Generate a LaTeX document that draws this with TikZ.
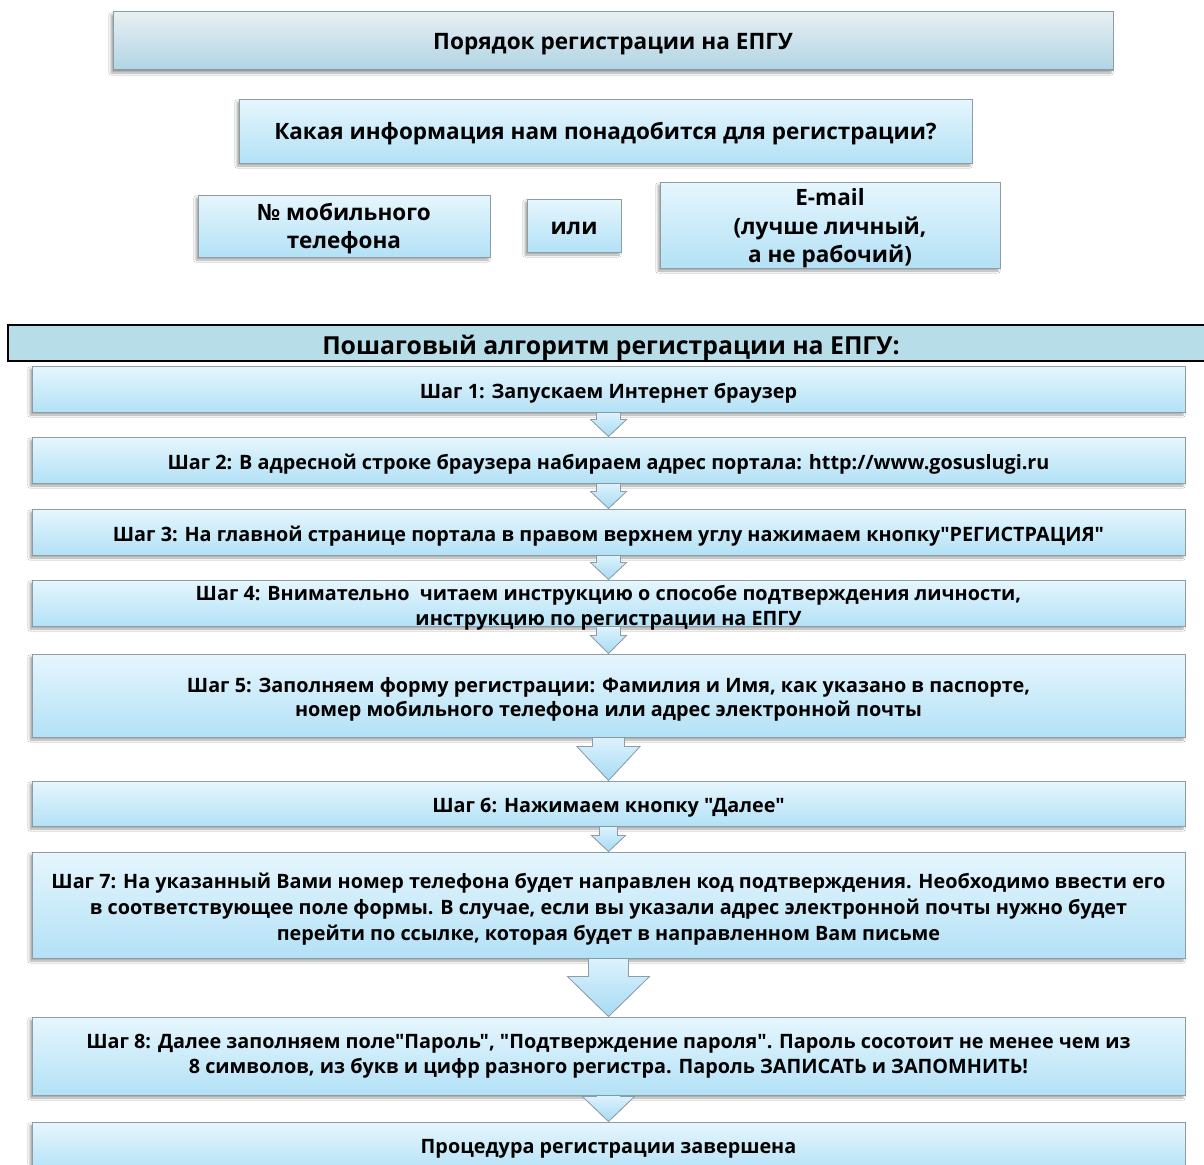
\documentclass[tikz,border=0pt]{standalone}
\usepackage{fontspec}
\setmainfont[Ligatures=TeXOff]{Open Sans}
\usetikzlibrary{shadows.blur,calc}
\definecolor{boxline}{HTML}{8E9CA4}
\definecolor{steptop}{HTML}{E6F6FD}
\definecolor{stepbot}{HTML}{B3E1F6}
\definecolor{titletop}{HTML}{E8EFF3}
\definecolor{titlebot}{HTML}{B0D4E4}
\definecolor{headfill}{HTML}{B7DEE8}
\definecolor{arrtop}{HTML}{DDF2FC}
\definecolor{arrbot}{HTML}{A6DBF4}
\begin{document}
\begin{tikzpicture}[x=1pt,y=-1pt,
  stepfont/.style={font=\bfseries\fontsize{19.8}{25}\selectfont},
  box/.style={draw=boxline, line width=1pt, top color=steptop, bottom color=stepbot,
    blur shadow={shadow xshift=-2pt, shadow yshift=-3pt, shadow opacity=35, shadow blur steps=4},
    inner sep=0pt},
  txt/.style={inner sep=0pt, align=center, stepfont},
  titlebox/.style={box, top color=titletop, bottom color=titlebot},
  qtxt/.style={txt, font=\bfseries\fontsize{22.5}{28.5}\selectfont},
  arrfill/.style={top color=arrtop, bottom color=arrbot},
  arrline/.style={draw=boxline, line width=0.8pt},
]
\useasboundingbox (0,0) rectangle (1204,1164);
\fill[white] (0,0) rectangle (1204,1164);

% top part
\node[titlebox, minimum width=1000pt, minimum height=58pt] (title) at (613,41) {};
\node[txt, font=\bfseries\fontsize{22.6}{28}\selectfont] (titlet) at (613,44) {Порядок регистрации на ЕПГУ};
\node[box, minimum width=733pt, minimum height=64pt] (quest) at (605.5,131) {};
\node[qtxt] (questt) at (605.5,134) {Какая информация нам понадобится для регистрации?};
\node[box, minimum width=292pt, minimum height=62pt] (phone) at (344,226) {};
\node[qtxt] (phonet) at (344,228.5) {№ мобильного\\телефона};
\node[box, minimum width=94pt, minimum height=53pt] (ili) at (574,225.5) {};
\node[qtxt] (ilit) at (574,228) {или};
\node[box, minimum width=340pt, minimum height=86pt] (email) at (830,225) {};
\node[qtxt] (emailt) at (830,228.5) {E-mail\\(лучше личный,\\а не рабочий)};

% header
\node[draw=black, line width=1.8pt, fill=headfill, minimum width=1202pt, minimum height=36pt, inner sep=0pt] (head) at (609,343) {};
\node[txt, font=\bfseries\fontsize{24.8}{28}\selectfont] (headt) at (611,348) {Пошаговый алгоритм регистрации на ЕПГУ:};

% step boxes
\node[box, minimum width=1153pt, minimum height=46pt] (s1) at (608.5,389) {};
\node[box, minimum width=1153pt, minimum height=46pt] (s2) at (608.5,460) {};
\node[box, minimum width=1153pt, minimum height=46pt] (s3) at (608.5,532) {};
\node[box, minimum width=1153pt, minimum height=46pt] (s4) at (608.5,603) {};
\node[box, minimum width=1153pt, minimum height=83pt] (s5) at (608.5,695.5) {};
\node[box, minimum width=1153pt, minimum height=45pt] (s6) at (608.5,803.5) {};
\node[box, minimum width=1153pt, minimum height=106pt] (s7) at (608.5,905) {};
\node[box, minimum width=1153pt, minimum height=78pt] (s8) at (608.5,1056) {};
\node[box, minimum width=1153pt, minimum height=50pt] (s9) at (608.5,1147) {};

% arrows
\newcommand{\blockarrow}[5]{%
  \path (#1.south) coordinate (ta) (#2.north) coordinate (tb);
  \fill[arrfill] let \p1=(ta), \p2=(tb) in
    (\x2-#3,\y1) -- (\x2-#3,\y2+#5) -- (\x2-#4,\y2+#5) -- (\x2,\y2) --
    (\x2+#4,\y2+#5) -- (\x2+#3,\y2+#5) -- (\x2+#3,\y1) -- cycle;
  \draw[arrline, line join=miter] let \p1=(ta), \p2=(tb) in
    (\x2-#3,\y1) -- (\x2-#3,\y2+#5) -- (\x2-#4,\y2+#5) -- (\x2,\y2) --
    (\x2+#4,\y2+#5) -- (\x2+#3,\y2+#5) -- (\x2+#3,\y1);}
\blockarrow{s1}{s2}{12}{18}{17}
\blockarrow{s2}{s3}{12}{18}{17}
\blockarrow{s3}{s4}{12}{18}{17}
\blockarrow{s4}{s5}{12}{18}{18}
\blockarrow{s5}{s6}{16}{31.5}{34}
\blockarrow{s6}{s7}{9}{17}{16}
\blockarrow{s7}{s8}{20}{41}{40}
\blockarrow{s8}{s9}{12}{26}{25}

% step texts
\node[txt] (s1t) at (608.5,393) {Шаг 1: Запускаем Интернет браузер};
\node[txt] (s2t) at (608.5,464) {Шаг 2: В адресной строке браузера набираем адрес портала: http://www.gosuslugi.ru};
\node[txt] (s3t) at (608.5,536) {Шаг 3: На главной странице портала в правом верхнем углу нажимаем кнопку"РЕГИСТРАЦИЯ"};
\node[txt] (s4t) at (608.5,607.5) {Шаг 4: Внимательно\ \ читаем инструкцию о способе подтверждения личности,\\инструкцию по регистрации на ЕПГУ};
\node[txt, font=\bfseries\fontsize{19.8}{24}\selectfont] (s5t) at (608.5,699.5) {Шаг 5: Заполняем форму регистрации: Фамилия и Имя, как указано в паспорте,\\номер мобильного телефона или адрес электронной почты};
\node[txt] (s6t) at (608.5,807.5) {Шаг 6: Нажимаем кнопку "Далее"};
\node[txt, font=\bfseries\fontsize{19.8}{26}\selectfont] (s7t) at (608.5,909) {Шаг 7: На указанный Вами номер телефона будет направлен код подтверждения. Необходимо ввести его\\в соответствующее поле формы. В случае, если вы указали адрес электронной почты нужно будет\\перейти по ссылке, которая будет в направленном Вам письме};
\node[txt] (s8t) at (608.5,1056) {Шаг 8: Далее заполняем поле"Пароль", "Подтверждение пароля". Пароль сосотоит не менее чем из\\8 символов, из букв и цифр разного регистра. Пароль ЗАПИСАТЬ и ЗАПОМНИТЬ!};
\node[txt] (s9t) at (608.5,1149) {Процедура регистрации завершена};
\end{tikzpicture}
\end{document}
